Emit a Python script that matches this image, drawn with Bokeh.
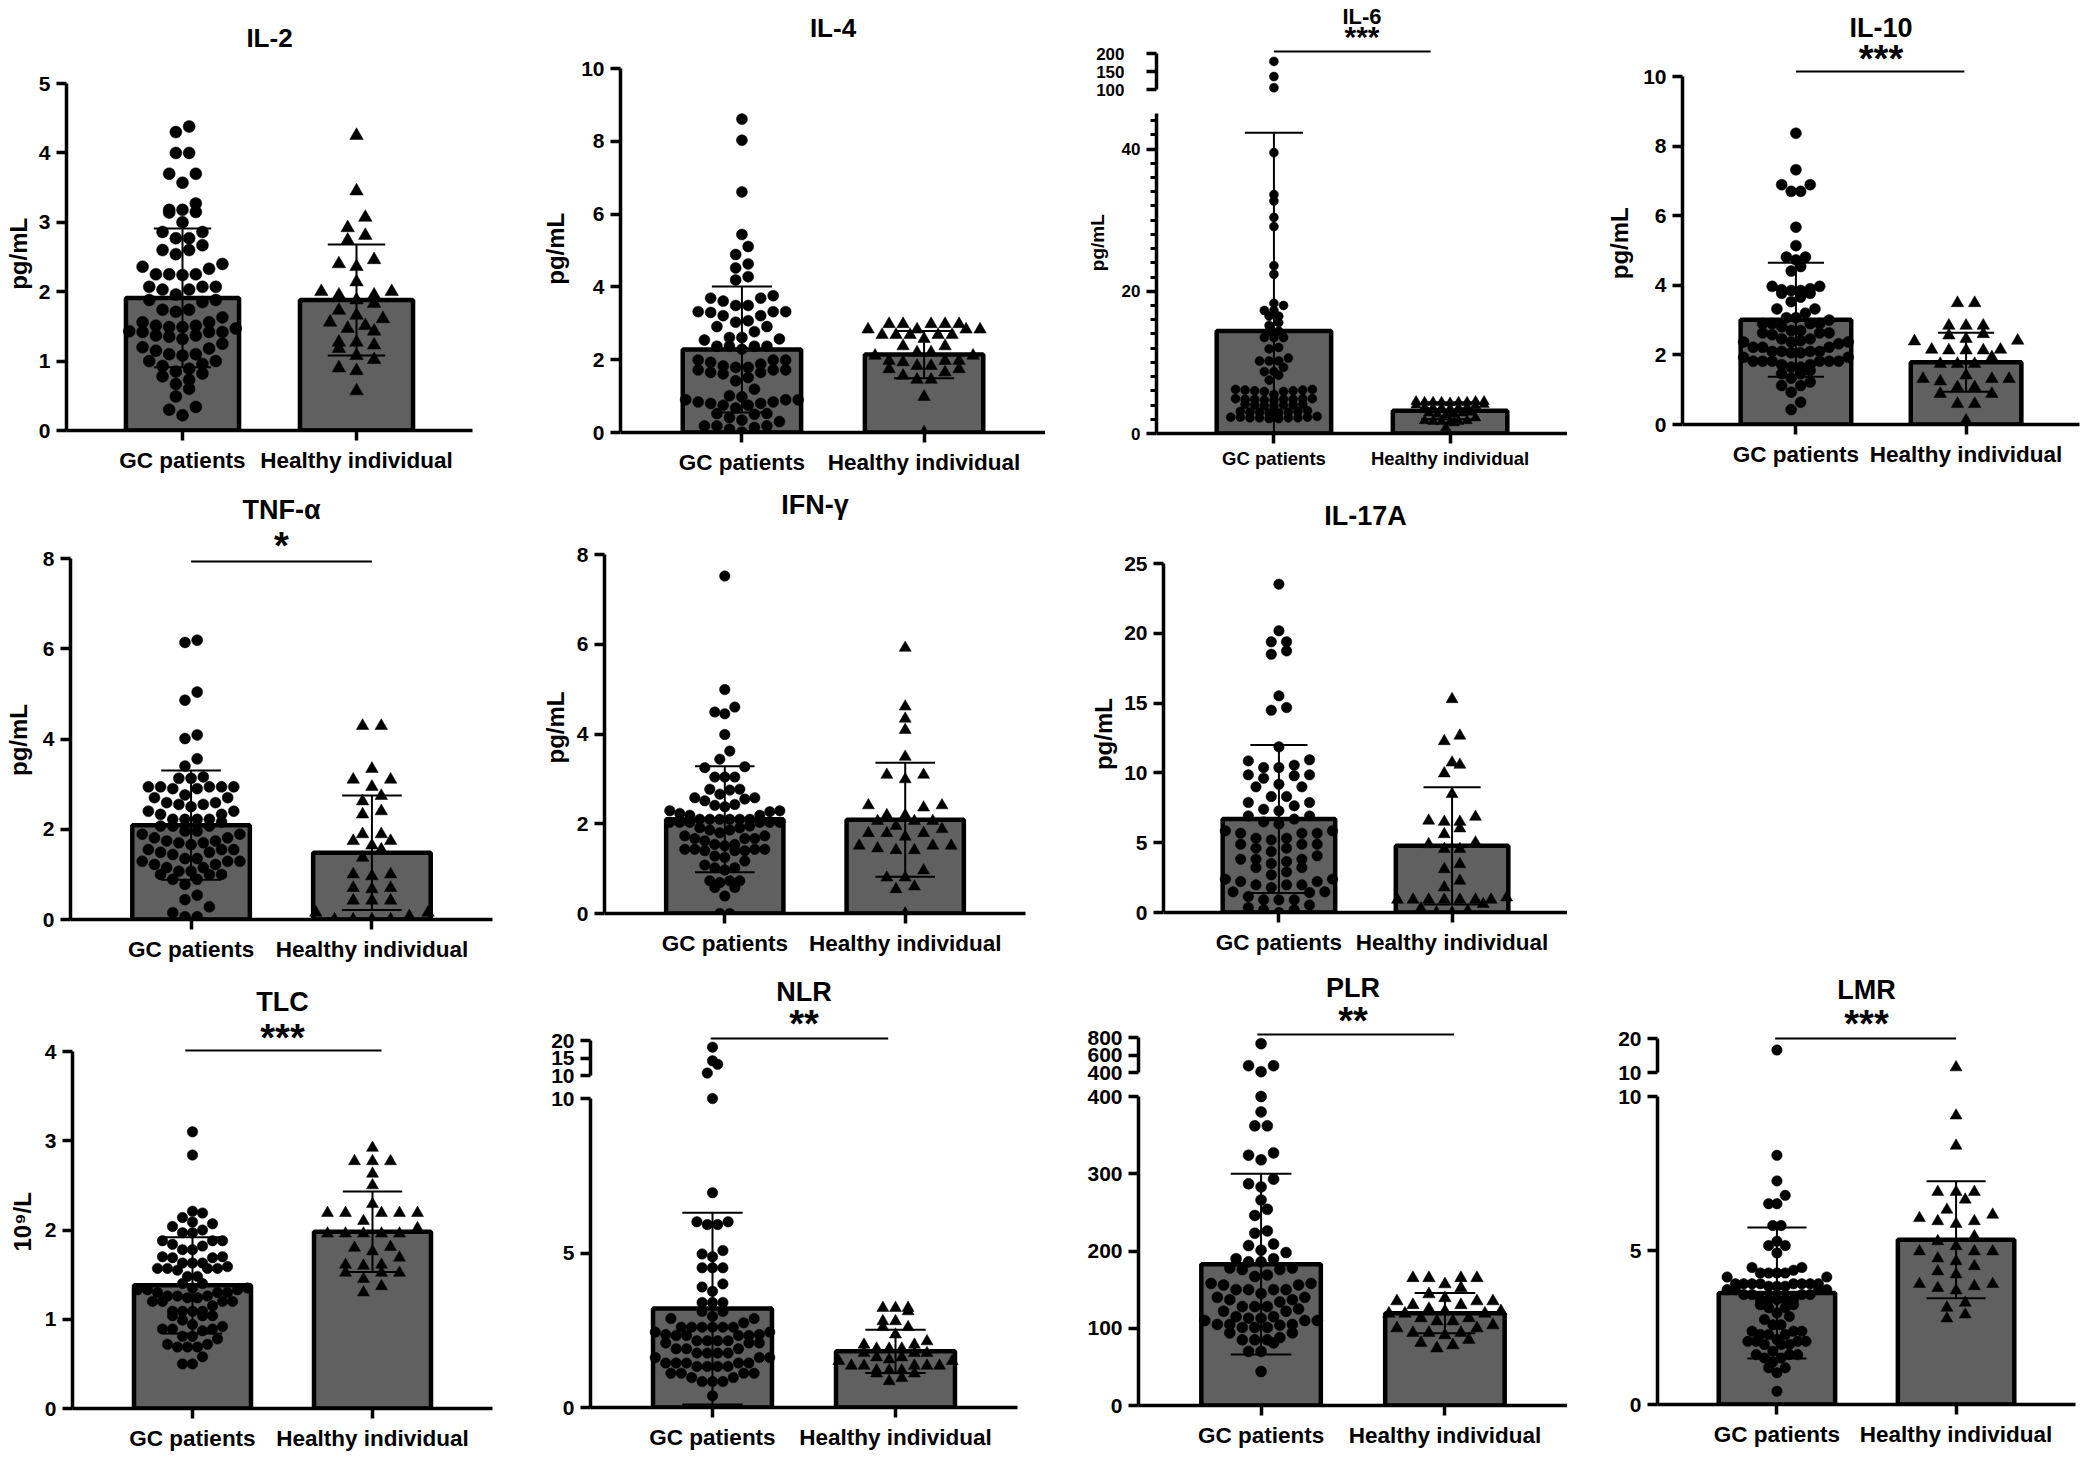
import math
from bokeh.plotting import figure
from bokeh.layouts import row, column
from bokeh.models import Range1d, FixedTicker, Spacer, Grid
from bokeh.core.properties import value
from bokeh.embed import file_html
from bokeh.resources import INLINE

FONT = "Liberation Sans"
GROUPS = ["GC patients", "Healthy individual"]

# ---------------- data ----------------
IL2_GC = [4.38, 4.30, 4.00, 4.00, 3.70, 3.70, 3.57, 3.27, 3.18, 3.18, 3.15, 3.14, 3.00, 2.86, 2.86, 2.77, 2.77,
          2.67, 2.60, 2.60, 2.54, 2.40, 2.36, 2.33, 2.25, 2.25, 2.25, 2.24, 2.07, 2.07, 2.07, 2.03, 2.03, 1.96,
          1.88, 1.88, 1.85, 1.74, 1.74, 1.71, 1.63, 1.56, 1.56, 1.51, 1.51, 1.49, 1.49, 1.47, 1.43, 1.42, 1.42,
          1.42, 1.37, 1.37, 1.35, 1.32, 1.25, 1.20, 1.18, 1.15, 1.10, 1.10, 1.08, 1.00, 1.00, 0.96, 0.93, 0.89,
          0.85, 0.82, 0.78, 0.73, 0.67, 0.60, 0.49, 0.34, 0.30, 0.22]
IL2_HI = [4.25, 3.45, 3.07, 2.92, 2.81, 2.74, 2.46, 2.40, 2.36, 2.14, 2.00, 2.00, 1.95, 1.95, 1.88, 1.83, 1.73,
          1.66, 1.61, 1.56, 1.51, 1.47, 1.43, 1.27, 1.27, 1.23, 1.18, 1.08, 1.02, 0.90, 0.86, 0.57]
IL2_MEAN = [1.91, 1.88]
IL2_SD = [1.00, 0.80]

IL4_GC = [8.61, 8.03, 6.61, 5.44, 5.11, 4.89, 4.63, 4.52, 4.28, 4.19, 3.76, 3.69, 3.69, 3.61, 3.49, 3.49, 3.32,
          3.32, 3.32, 3.30, 3.21, 3.21, 3.07, 3.03, 2.91, 2.91, 2.77, 2.61, 2.61, 2.57, 2.54, 2.37, 2.37, 2.37,
          2.37, 2.29, 1.99, 1.99, 1.99, 1.93, 1.88, 1.83, 1.79, 1.79, 1.72, 1.72, 1.72, 1.65, 1.65, 1.61, 1.51,
          1.42, 1.19, 1.01, 0.98, 0.90, 0.90, 0.90, 0.84, 0.84, 0.80, 0.80, 0.75, 0.75, 0.67, 0.52, 0.52, 0.50,
          0.41, 0.34, 0.30, 0.18, 0.18, 0.18, 0.14, 0.09, 0.01]
IL4_HI = [2.98, 2.98, 2.98, 2.98, 2.98, 2.83, 2.83, 2.83, 2.83, 2.68, 2.68, 2.68, 2.68, 2.68, 2.57, 2.37, 2.37,
          2.20, 2.20, 2.11, 2.11, 1.97, 1.97, 1.97, 1.93, 1.83, 1.83, 1.74, 1.74, 1.65, 1.56, 1.45, 1.45, 0.98, 0.00]
IL4_MEAN = [2.28, 2.14]
IL4_SD = [1.73, 0.65]

IL6_GC = [178, 136, 105, 39.5, 33.6, 32.7, 30.4, 29.1, 23.6, 22.4, 18.3, 18.0, 17.3, 17.3, 16.5, 16.5, 15.6,
          15.2, 14.4, 14.4, 13.5, 13.5, 13.5, 12.1, 11.9, 10.6, 10.2, 10.2, 10.2, 9.3, 8.7, 8.7, 8.2, 7.5, 6.2,
          6.1, 6.0, 6.2, 5.9, 6.1, 6.0, 5.9, 5.5, 4.9, 4.8, 4.7, 4.9, 4.8, 4.8, 4.7, 4.9, 4.8, 4.1, 4.0, 3.9,
          4.0, 4.1, 3.9, 4.0, 3.1, 3.0, 2.9, 3.1, 3.0, 2.9, 3.2, 3.0, 2.3, 2.2, 2.1, 2.3, 2.2, 2.4, 2.2, 2.1,
          2.3, 2.2]
IL6_HI = [4.5, 4.4, 4.4, 4.5, 4.4, 4.3, 4.4, 4.5, 4.4, 4.0, 4.1, 3.9, 3.6, 3.7, 3.6, 3.5, 3.6, 3.7, 2.9, 3.0,
          2.9, 2.7, 2.6, 2.7, 2.2, 1.7, 1.8, 1.7, 1.6, 1.7, 1.8, 1.5, 0.8]
IL6_MEAN = [14.4, 3.2]
IL6_SD = [27.9, 1.2]

IL10_GC = [8.37, 7.32, 6.89, 6.89, 6.70, 6.70, 5.67, 5.14, 4.81, 4.81, 4.73, 4.54, 4.41, 3.97, 3.97, 3.90, 3.87,
           3.85, 3.85, 3.77, 3.77, 3.66, 3.53, 3.32, 3.32, 3.20, 3.07, 3.07, 3.00, 2.90, 2.90, 2.90, 2.90, 2.81,
           2.70, 2.70, 2.63, 2.63, 2.63, 2.58, 2.46, 2.46, 2.41, 2.37, 2.37, 2.37, 2.32, 2.22, 2.22, 2.22, 2.10,
           2.10, 2.10, 2.10, 2.06, 2.06, 1.93, 1.93, 1.82, 1.82, 1.82, 1.82, 1.82, 1.82, 1.72, 1.72, 1.65, 1.65,
           1.55, 1.46, 1.46, 1.33, 1.22, 1.12, 1.12, 0.93, 0.64, 0.43]
IL10_HI = [3.49, 3.49, 2.84, 2.84, 2.84, 2.60, 2.56, 2.46, 2.41, 2.39, 2.15, 2.15, 2.13, 2.13, 2.13, 1.93, 1.74,
           1.74, 1.74, 1.41, 1.31, 1.31, 1.31, 1.24, 1.07, 1.07, 0.88, 0.88, 0.59, 0.59, 0.11]
IL10_MEAN = [3.01, 1.79]
IL10_SD = [1.64, 0.85]

TNF_GC = [6.19, 6.14, 5.04, 4.86, 4.09, 4.01, 3.56, 3.40, 3.16, 3.13, 3.13, 2.94, 2.94, 2.94, 2.94, 2.94, 2.90,
          2.90, 2.76, 2.70, 2.70, 2.59, 2.59, 2.55, 2.55, 2.50, 2.40, 2.40, 2.33, 2.33, 2.22, 2.22, 2.22, 2.22,
          2.16, 2.07, 2.07, 2.07, 1.96, 1.96, 1.89, 1.89, 1.81, 1.81, 1.74, 1.74, 1.70, 1.70, 1.66, 1.55, 1.55,
          1.55, 1.49, 1.49, 1.44, 1.35, 1.35, 1.29, 1.29, 1.29, 1.22, 1.22, 1.15, 1.15, 1.07, 1.07, 1.00, 1.00,
          1.00, 0.89, 0.89, 0.78, 0.54, 0.44, 0.28, 0.15, 0.06, 0.06]
TNF_HI = [4.29, 4.29, 3.34, 3.10, 3.10, 2.94, 2.74, 2.62, 2.40, 2.33, 1.89, 1.89, 1.74, 1.74, 1.64, 1.55, 1.37,
          1.00, 1.00, 0.96, 0.70, 0.70, 0.67, 0.42, 0.42, 0.42, 0.15, 0.15, 0.07, 0.00, 0.00, 0.00, 0.00]
TNF_MEAN = [2.09, 1.48]
TNF_SD = [1.21, 1.27]

IFN_GC = [7.52, 4.99, 4.60, 4.49, 4.45, 3.99, 3.62, 3.44, 3.27, 3.25, 3.04, 3.04, 3.04, 2.77, 2.77, 2.75, 2.66,
          2.58, 2.58, 2.55, 2.51, 2.43, 2.41, 2.38, 2.29, 2.29, 2.27, 2.23, 2.19, 2.19, 2.10, 2.10, 2.10, 2.10,
          2.10, 2.10, 2.03, 2.03, 2.03, 2.03, 2.03, 2.03, 1.95, 1.91, 1.91, 1.86, 1.86, 1.80, 1.73, 1.73, 1.67,
          1.67, 1.67, 1.62, 1.54, 1.54, 1.51, 1.43, 1.43, 1.43, 1.43, 1.40, 1.40, 1.40, 1.28, 1.25, 1.17, 1.08,
          1.02, 1.02, 0.97, 0.73, 0.73, 0.73, 0.69, 0.58, 0.58, 0.39, 0.00, 0.00]
IFN_HI = [5.92, 4.61, 4.34, 4.09, 3.49, 3.09, 3.09, 2.99, 2.41, 2.41, 2.36, 2.19, 2.19, 2.06, 2.06, 2.06, 1.95,
          1.88, 1.79, 1.79, 1.79, 1.71, 1.51, 1.51, 1.51, 1.45, 1.41, 1.41, 0.96, 0.80, 0.80, 0.60, 0.54, 0.00]
IFN_MEAN = [2.10, 2.09]
IFN_SD = [1.18, 1.27]

IL17_GC = [23.52, 20.18, 19.39, 19.39, 18.74, 18.50, 15.52, 14.68, 14.49, 11.87, 10.94, 10.86, 10.55, 10.39,
           10.39, 9.86, 9.86, 9.79, 9.62, 9.19, 9.00, 9.00, 8.31, 8.31, 7.88, 7.88, 7.64, 7.40, 7.28, 6.92, 6.92,
           6.69, 6.49, 6.33, 5.85, 5.85, 5.68, 5.68, 5.68, 5.32, 5.32, 5.20, 4.89, 4.89, 4.89, 4.61, 4.61, 4.37,
           4.06, 3.82, 3.82, 3.82, 3.65, 3.51, 3.22, 3.22, 2.91, 2.70, 2.39, 2.39, 2.22, 2.22, 1.98, 1.98, 1.98,
           1.79, 1.48, 1.48, 1.43, 1.15, 0.91, 0.91, 0.91, 0.53, 0.36, 0.19, 0.19, 0.00]
IL17_HI = [15.28, 12.66, 12.27, 10.74, 10.58, 9.96, 8.48, 6.85, 6.57, 6.49, 6.49, 6.02, 5.61, 5.01, 4.89, 4.54,
           4.54, 3.46, 3.10, 2.27, 1.79, 1.07, 0.91, 0.91, 0.91, 0.91, 0.91, 0.91, 0.91, 0.60, 0.29, 0.12, 0.00,
           0.00]
IL17_MEAN = [6.69, 4.78]
IL17_SD = [5.30, 4.20]

TLC_GC = [3.10, 2.84, 2.21, 2.19, 2.14, 2.09, 2.07, 2.04, 2.00, 1.97, 1.97, 1.88, 1.88, 1.88, 1.84, 1.82, 1.78,
          1.78, 1.70, 1.70, 1.69, 1.69, 1.63, 1.63, 1.63, 1.59, 1.57, 1.57, 1.57, 1.57, 1.55, 1.48, 1.48, 1.40,
          1.40, 1.35, 1.35, 1.33, 1.33, 1.33, 1.30, 1.30, 1.30, 1.26, 1.26, 1.26, 1.24, 1.24, 1.20, 1.20, 1.20,
          1.20, 1.15, 1.09, 1.09, 1.09, 1.09, 1.04, 1.04, 1.04, 0.99, 0.94, 0.92, 0.89, 0.89, 0.89, 0.87, 0.81,
          0.81, 0.78, 0.72, 0.72, 0.69, 0.69, 0.69, 0.58, 0.50, 0.50]
TLC_HI = [2.92, 2.77, 2.77, 2.77, 2.63, 2.50, 2.29, 2.19, 2.19, 2.19, 2.19, 2.19, 2.10, 2.02, 1.96, 1.96, 1.96,
          1.96, 1.96, 1.81, 1.80, 1.76, 1.69, 1.61, 1.61, 1.60, 1.52, 1.52, 1.52, 1.45, 1.37, 1.30]
TLC_MEAN = [1.38, 1.98]
TLC_SD = [0.54, 0.45]

NLR_GC = [18.1, 14.2, 13.2, 10.7, 10.0, 6.95, 6.01, 6.01, 5.92, 5.92, 5.08, 4.97, 4.88, 4.52, 4.52, 4.52, 4.00,
          3.90, 3.76, 3.40, 3.40, 3.40, 3.11, 3.11, 2.95, 2.88, 2.88, 2.74, 2.60, 2.60, 2.60, 2.60, 2.60, 2.60,
          2.44, 2.44, 2.36, 2.36, 2.33, 2.33, 2.33, 2.33, 2.16, 2.16, 2.16, 2.16, 2.09, 2.09, 2.09, 1.90, 1.90,
          1.90, 1.76, 1.76, 1.76, 1.76, 1.62, 1.62, 1.62, 1.44, 1.44, 1.44, 1.44, 1.44, 1.33, 1.33, 1.33, 1.33,
          1.11, 1.11, 1.11, 1.11, 0.97, 0.97, 0.84, 0.84, 0.84, 0.38]
NLR_HI = [3.22, 3.22, 3.22, 3.11, 2.79, 2.79, 2.60, 2.60, 2.36, 2.14, 2.03, 2.03, 1.90, 1.90, 1.90, 1.76, 1.76,
          1.76, 1.62, 1.62, 1.55, 1.50, 1.50, 1.35, 1.35, 1.35, 1.35, 1.35, 1.20, 1.20, 1.20, 1.10, 1.10, 0.95,
          0.85]
NLR_MEAN = [3.20, 1.82]
NLR_SD = [3.10, 0.70]

PLR_GC = [730, 478, 478, 410, 400, 380, 362, 362, 327, 324, 318, 293, 287, 283, 266, 254, 246, 226, 223, 209,
          207, 201, 198, 190, 190, 186, 186, 178, 178, 176, 176, 169, 167, 158, 158, 156, 156, 150, 150, 150,
          150, 145, 140, 140, 137, 137, 134, 128, 128, 128, 125, 122, 122, 115, 115, 113, 113, 110, 110, 110,
          105, 105, 105, 104, 101, 101, 101, 94, 94, 88, 85, 85, 85, 81, 70, 70, 44]
PLR_HI = [165, 165, 165, 165, 157, 152, 144, 139, 135, 135, 135, 130, 130, 125, 122, 122, 119, 119, 119, 113,
          113, 109, 109, 104, 100, 100, 94, 94, 94, 91, 85, 81, 78, 74]
PLR_MEAN = [183.0, 119.5]
PLR_SD = [117.0, 26.0]

LMR_GC = [16.6, 8.09, 7.26, 6.79, 6.52, 6.52, 5.81, 5.81, 5.30, 5.16, 5.16, 4.92, 4.45, 4.45, 4.36, 4.27, 4.27,
          4.27, 4.27, 4.14, 4.14, 3.92, 3.92, 3.92, 3.92, 3.92, 3.92, 3.92, 3.92, 3.84, 3.84, 3.84, 3.73, 3.73,
          3.73, 3.73, 3.57, 3.57, 3.57, 3.57, 3.41, 3.41, 3.41, 3.41, 3.41, 3.24, 3.24, 3.14, 3.14, 2.97, 2.86,
          2.76, 2.59, 2.59, 2.38, 2.38, 2.38, 2.27, 2.27, 2.27, 2.11, 2.05, 2.05, 2.05, 2.05, 1.95, 1.95, 1.95,
          1.73, 1.62, 1.62, 1.62, 1.51, 1.51, 1.38, 1.19, 1.19, 1.03, 0.43]
LMR_HI = [11.5, 9.38, 8.40, 6.90, 6.90, 6.90, 6.65, 6.32, 6.16, 6.05, 5.95, 5.95, 5.86, 5.46, 5.30, 5.14, 4.97,
          4.97, 4.97, 4.74, 4.65, 4.49, 4.32, 4.22, 3.91, 3.91, 3.84, 3.78, 3.70, 3.30, 3.14, 2.92, 2.79]
LMR_MEAN = [3.62, 5.35]
LMR_SD = [2.13, 1.90]

# ---------------- layout / style ----------------
XS, XE = 1.0 / 3.0, 8.0 / 3.0
BAR_W = 0.65
CAP_W = 0.33
BAR_FILL = "#606060"

ROWS = [(0, 482), (482, 964), (964, 1454)]
COLS = [(0, 522), (522, 1045), (1045, 1567), (1567, 2096)]

DEFAULT = dict(tfs=27, xfs=22.5, yfs=21, lfs=24, sfs=38, yms=6, tms=6, xms=7, tick=10, msz=10.5,
               ylabel=None, lx=None, ly=None, lshift=27, lab_pad=16, sig=None, top=None, minor=None,
               gbin=None, hbin=None)

IL6_MINOR = [2, 4, 6, 8, 10, 12, 14, 16, 18, 22, 24, 26, 28, 30, 32, 34, 36, 38, 42, 44]

PANELS = [
    dict(title="IL-2", gc=IL2_GC, hi=IL2_HI, mean=IL2_MEAN, sd=IL2_SD, ticks=[0, 1, 2, 3, 4, 5],
         ylabel="pg/mL", lx=18, ly=257, r=0, c=0, L=66, R=472, y0=430, ref=(5, 83), title_y=37,
         tfs=26, msz=12, gstep=13.3, hstep=17.6),
    dict(title="IL-4", gc=IL4_GC, hi=IL4_HI, mean=IL4_MEAN, sd=IL4_SD, ticks=[0, 2, 4, 6, 8, 10],
         ylabel="pg/mL", lx=555, ly=250, r=0, c=1, L=620, R=1045, y0=432, ref=(10, 68), title_y=27,
         tfs=26, msz=11, gstep=12.5, hstep=14.0),
    dict(title="IL-6", gc=IL6_GC, hi=IL6_HI, mean=IL6_MEAN, sd=IL6_SD, ticks=[0, 20, 40], minor=IL6_MINOR,
         ylabel="pg/mL", lx=1097, ly=243, lshift=20, lab_pad=13, r=0, c=2, L=1156, R=1567, y0=433,
         ref=(45, 113), split=101, top=(100, 89, 200, 53, [100, 150, 200]), title_y=16,
         sig=("***", 33, 51, 1.0, 1.89), tfs=22, xfs=18.5, yfs=17, lfs=19, sfs=30, tms=22, xms=4, msz=9,
         gstep=9.6, hstep=8.5, gbin=5, hbin=5),
    dict(title="IL-10", gc=IL10_GC, hi=IL10_HI, mean=IL10_MEAN, sd=IL10_SD, ticks=[0, 2, 4, 6, 8, 10],
         ylabel="pg/mL", lx=1619, ly=249, r=0, c=3, L=1682, R=2079, y0=424, ref=(10, 76), title_y=27,
         sig=("***", 55, 71, 1.0, 1.99), msz=11, gstep=9.5, hstep=17.2),
    dict(title="TNF-α", gc=TNF_GC, hi=TNF_HI, mean=TNF_MEAN, sd=TNF_SD, ticks=[0, 2, 4, 6, 8],
         ylabel="pg/mL", lx=18, ly=739, r=1, c=0, L=70, R=492, y0=919, ref=(8, 558), title_y=509,
         sig=("*", 542, 561, 1.0, 2.0), msz=11, gstep=12.2, hstep=18.7),
    dict(title="IFN-γ", gc=IFN_GC, hi=IFN_HI, mean=IFN_MEAN, sd=IFN_SD, ticks=[0, 2, 4, 6, 8],
         ylabel="pg/mL", lx=555, ly=729, r=1, c=1, L=604, R=1025, y0=913, ref=(8, 554), title_y=504,
         msz=10.5, gstep=10.0, hstep=18.4),
    dict(title="IL-17A", gc=IL17_GC, hi=IL17_HI, mean=IL17_MEAN, sd=IL17_SD, ticks=[0, 5, 10, 15, 20, 25],
         ylabel="pg/mL", lx=1103, ly=737, r=1, c=2, L=1163, R=1567, y0=912, ref=(25, 563), title_y=515,
         msz=10.5, gstep=15.3, hstep=15.6),
    dict(title="TLC", gc=TLC_GC, hi=TLC_HI, mean=TLC_MEAN, sd=TLC_SD, ticks=[0, 1, 2, 3, 4],
         ylabel="10⁹/L", lx=22, ly=1229, lshift=19, r=2, c=0, L=72, R=492, y0=1408, ref=(4, 1051),
         title_y=1001, sig=("***", 1034, 1050, 0.96, 2.05), msz=10.5, gstep=10.0, hstep=18.0),
    dict(title="NLR", gc=NLR_GC, hi=NLR_HI, mean=NLR_MEAN, sd=NLR_SD, ticks=[0, 5, 10],
         r=2, c=1, L=590, R=1017, y0=1407, ref=(10, 1098), split=1087,
         top=(10, 1075, 20, 1040, [10, 15, 20]), title_y=991, sig=("**", 1020, 1038, 0.99, 1.96),
         msz=10.5, gstep=10.4, hstep=12.6),
    dict(title="PLR", gc=PLR_GC, hi=PLR_HI, mean=PLR_MEAN, sd=PLR_SD, ticks=[0, 100, 200, 300, 400],
         r=2, c=2, L=1138, R=1567, y0=1405, ref=(400, 1096), split=1084,
         top=(400, 1072, 800, 1037, [400, 600, 800]), title_y=987, sig=("**", 1017, 1034, 0.98, 2.05),
         msz=11, gstep=12.5, hstep=16.0),
    dict(title="LMR", gc=LMR_GC, hi=LMR_HI, mean=LMR_MEAN, sd=LMR_SD, ticks=[0, 5, 10],
         r=2, c=3, L=1657, R=2075, y0=1404, ref=(10, 1096), split=1084,
         top=(10, 1072, 20, 1038, [10, 20]), title_y=989, sig=("***", 1020, 1038, 0.99, 2.0),
         msz=10.5, gstep=8.3, hstep=18.3),
]


def clean(p):
    p.outline_line_color = None
    p.background_fill_color = "white"
    p.border_fill_color = "white"
    for g in p.select(type=Grid):
        g.visible = False


def new_fig(x0, x1, s, height, y_range, mbb, show_x, show_y):
    p = figure(width=x1 - x0, height=height, x_range=Range1d(XS, XE), y_range=y_range,
               min_border_left=s["L"] - x0, min_border_right=x1 - s["R"],
               min_border_top=0, min_border_bottom=mbb,
               x_axis_location="below" if show_x else None,
               y_axis_location="left" if show_y else None,
               toolbar_location=None, output_backend="svg")
    clean(p)
    return p


def label_fig(x0, x1, y0, y1, text, lx, ly, fs):
    w, h = x1 - x0, y1 - y0
    p = figure(width=w, height=h, x_range=Range1d(0, w), y_range=Range1d(0, h),
               min_border_left=0, min_border_right=0, min_border_top=0, min_border_bottom=0,
               x_axis_location=None, y_axis_location=None, toolbar_location=None, output_backend="svg")
    clean(p)
    p.text(x=[lx - x0], y=[y1 - ly], text=[text], angle=math.pi / 2, text_font=value(FONT),
           text_font_size=value(f"{fs}px"), text_font_style="bold", text_color="black",
           text_align="center", text_baseline="alphabetic")
    return p


def style_axis(ax, fs, ms, tick):
    ax.axis_line_width = 3.5
    ax.axis_line_color = "black"
    ax.major_tick_line_width = 3.5
    ax.major_tick_line_color = "black"
    ax.major_tick_out = tick
    ax.major_tick_in = 0
    ax.minor_tick_line_color = None
    ax.major_label_text_font = FONT
    ax.major_label_text_font_size = f"{fs}px"
    ax.major_label_text_font_style = "bold"
    ax.major_label_text_color = "black"
    ax.major_label_standoff = ms


def add_text(p, x, y, txt, fs):
    p.text(x=[x], y=[y], text=[txt], text_font=value(FONT), text_font_size=value(f"{fs}px"),
           text_font_style="bold", text_color="black", text_align="center", text_baseline="alphabetic")


def swarm(vals, xc, ky, sx, step, binh, maxn):
    vs = sorted(vals)
    xs, ys = [], []
    i = 0
    while i < len(vs):
        j = i + 1
        while j < len(vs) and (vs[j] - vs[i]) * ky < binh and (j - i) < maxn:
            j += 1
        n = j - i
        offs = [(m - (n - 1) / 2.0) * step for m in range(n)]
        order = sorted(range(n), key=lambda m: (abs(offs[m]), offs[m]))
        for v, m in zip(vs[i:j], order):
            xs.append(xc + offs[m] / sx)
            ys.append(v)
        i = j
    return xs, ys


def build(spec):
    s = dict(DEFAULT)
    s.update(spec)
    cx0, cx1 = COLS[s["c"]]
    ry0, ry1 = ROWS[s["r"]]
    vtop, vpx = s["ref"]
    y0 = s["y0"]
    ky = (y0 - vpx) / vtop
    sx = (s["R"] - s["L"]) / (XE - XS)
    bar_px = BAR_W * sx
    has_lab = s["ylabel"] is not None
    lab_r = s["lx"] + s["lab_pad"] if has_lab else cx0

    def my(P):
        return (y0 - P) / ky

    kt = None
    if s["top"] is None:
        p = new_fig(lab_r, cx1, s, ry1 - ry0, Range1d(0, (y0 - ry0) / ky), ry1 - y0, True, True)
        up, uy = p, my
        if has_lab:
            cell = row(label_fig(cx0, lab_r, ry0, ry1, s["ylabel"], s["lx"], s["ly"] + s["lshift"],
                                 s["lfs"]), p)
        else:
            cell = p
    else:
        split = s["split"]
        lo_v, lo_px, hi_v, hi_px, tt = s["top"]
        kt = (lo_px - hi_px) / (hi_v - lo_v)
        up = new_fig(cx0, cx1, s, split - ry0,
                     Range1d(lo_v - (split - lo_px) / kt, hi_v + (hi_px - ry0) / kt), 0, False, True)
        tax = up.yaxis[0]
        tax.ticker = FixedTicker(ticks=tt)
        tax.bounds = (lo_v, hi_v)
        style_axis(tax, s["yfs"], s["tms"], s["tick"])

        def uy(P):
            return hi_v + (hi_px - P) / kt

        p = new_fig(lab_r, cx1, s, ry1 - split, Range1d(0, (y0 - split) / ky), ry1 - y0, True, True)
        if has_lab:
            bottom = row(label_fig(cx0, lab_r, split, ry1, s["ylabel"], s["lx"], s["ly"] + s["lshift"],
                                   s["lfs"]), p)
        else:
            bottom = p
        cell = column(up, bottom)

    ax = p.yaxis[0]
    ax.ticker = FixedTicker(ticks=s["ticks"], minor_ticks=s["minor"] or [])
    ax.bounds = (0, vtop)
    style_axis(ax, s["yfs"], s["yms"], s["tick"])
    if s["minor"]:
        ax.minor_tick_line_color = "black"
        ax.minor_tick_line_width = 3
        ax.minor_tick_out = 6
        ax.minor_tick_in = 0
    xa = p.xaxis[0]
    xa.ticker = FixedTicker(ticks=[1, 2])
    xa.major_label_overrides = {1: GROUPS[0], 2: GROUPS[1]}
    style_axis(xa, s["xfs"], s["xms"], s["tick"])

    mean, sd = s["mean"], s["sd"]
    p.vbar(x=[1, 2], top=mean, bottom=0, width=BAR_W, fill_color=BAR_FILL,
           line_color="black", line_width=4.5)
    e_lo = [a - b for a, b in zip(mean, sd)]
    e_hi = [a + b for a, b in zip(mean, sd)]
    p.segment(x0=[1, 2], y0=e_lo, x1=[1, 2], y1=e_hi, line_color="black", line_width=2)
    c = CAP_W / 2.0
    p.segment(x0=[1 - c, 2 - c, 1 - c, 2 - c], y0=e_hi + e_lo, x1=[1 + c, 2 + c, 1 + c, 2 + c],
              y1=e_hi + e_lo, line_color="black", line_width=2)

    groups = [(s["gc"], "circle", s["gstep"], s["gbin"] or s["msz"], s["msz"]),
              (s["hi"], "triangle", s["hstep"], s["hbin"] or s["msz"], s["msz"] + 1.5)]
    for gi, (vals, marker, step, binh, size) in enumerate(groups):
        xc = gi + 1
        maxn = int(bar_px / step) + 1
        xs, ys = swarm([v for v in vals if v <= vtop], xc, ky, sx, step, binh, maxn)
        p.scatter(x=xs, y=ys, marker=marker, size=size, fill_color="black", line_color="black",
                  line_width=0.5)
        if kt is not None:
            tv = [v for v in vals if v > vtop]
            if tv:
                xs, ys = swarm(tv, xc, kt, sx, step, binh, maxn)
                up.scatter(x=xs, y=ys, marker=marker, size=size, fill_color="black",
                           line_color="black", line_width=0.5)

    # ---- title and significance marks
    add_text(up, 1.5, uy(s["title_y"]), s["title"], s["tfs"])
    if s["sig"]:
        txt, sy, ly, lx0, lx1 = s["sig"]
        add_text(up, 1.5, uy(sy + 0.1 * s["sfs"]), txt, s["sfs"])
        up.segment(x0=[lx0], y0=[uy(ly)], x1=[lx1], y1=[uy(ly)], line_color="black", line_width=2)

    return cell


cells = [build(sp) for sp in PANELS]
r1 = row(cells[0], cells[1], cells[2], cells[3])
r2 = row(cells[4], cells[5], cells[6],
         Spacer(width=COLS[3][1] - COLS[3][0], height=ROWS[1][1] - ROWS[1][0]))
r3 = row(cells[7], cells[8], cells[9], cells[10])
layout = column(r1, r2, r3)

open("out.html", "w").write(file_html(layout, INLINE))
